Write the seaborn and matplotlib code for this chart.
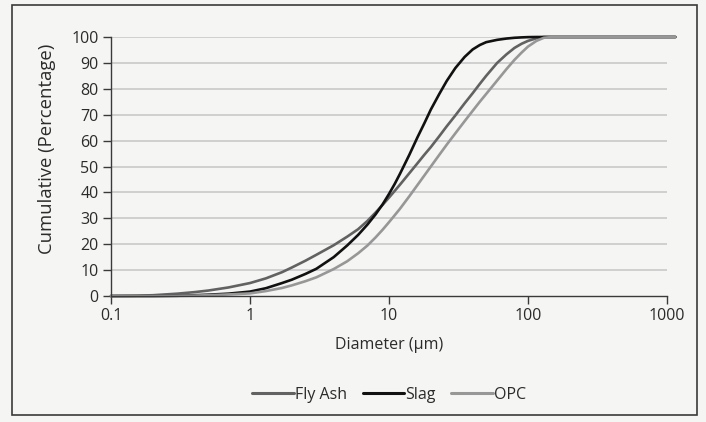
import numpy as np
import pandas as pd
import matplotlib
matplotlib.use("Agg")
import matplotlib.pyplot as plt
import seaborn as sns
from matplotlib.patches import Rectangle
from matplotlib.lines import Line2D

# ---- data ----
diameter = [0.1, 0.15, 0.2, 0.3, 0.4, 0.5, 0.7, 1, 1.3, 1.7, 2, 2.5, 3, 4, 5, 6, 7, 8, 9,
            10, 11, 12, 14, 16, 18, 20, 23, 26, 30, 35, 40, 45, 50, 60, 70, 80, 90, 100,
            115, 130, 150, 200, 300, 500, 1000, 1150]
fly_ash = [0, 0.1, 0.3, 0.9, 1.5, 2.1, 3.3, 5.0, 6.8, 9.2, 11.0, 13.6, 15.9, 19.6, 22.9,
           25.8, 29.0, 32.2, 35.2, 38.0, 40.6, 43.0, 47.4, 51.2, 54.6, 57.5, 61.7, 65.5,
           69.7, 74.4, 78.3, 81.9, 85.0, 90.0, 93.3, 95.8, 97.4, 98.5, 99.5, 100, 100,
           100, 100, 100, 100, 100]
slag = [0, 0, 0, 0.1, 0.3, 0.5, 0.9, 1.7, 3.0, 5.0, 6.3, 8.5, 10.5, 15.0, 19.5, 23.6,
        27.6, 31.5, 35.4, 39.4, 43.3, 47.2, 54.5, 61.2, 66.8, 72.0, 78.0, 83.0, 88.0,
        92.3, 95.2, 96.9, 98.0, 98.9, 99.4, 99.7, 99.85, 99.95, 100, 100, 100, 100, 100,
        100, 100, 100]
opc = [0, 0, 0, 0.05, 0.15, 0.3, 0.6, 1.0, 1.9, 3.1, 4.1, 5.7, 7.2, 10.4, 13.4, 16.5,
       19.5, 22.6, 25.6, 28.5, 31.2, 33.7, 38.5, 42.8, 46.6, 50.0, 54.5, 58.4, 62.8,
       67.5, 71.5, 75.0, 78.0, 83.2, 87.6, 91.2, 94.0, 96.3, 98.5, 99.7, 100, 100, 100,
       100, 100, 100]
series_names = ["Fly Ash", "Slag", "OPC"]
x_ticks = [0.1, 1, 10, 100, 1000]
x_tick_labels = ["0.1", "1", "10", "100", "1000"]
y_ticks = list(range(0, 101, 10))

df = pd.concat([
    pd.DataFrame({"Diameter": diameter, "Cumulative": vals, "Material": name})
    for name, vals in zip(series_names, [fly_ash, slag, opc])
])

sns.set_theme(style="white")
plt.rcParams["font.family"] = ["Open Sans", "DejaVu Sans"]
text_col = "#2b2b2b"
fs = 11.5

fig = plt.figure(figsize=(7.06, 4.22), dpi=100)
bg = "#f5f5f3"
fig.patch.set_facecolor(bg)
fig.patches.append(Rectangle((12 / 706, 1 - 415 / 422), 685 / 706, 410 / 422,
                             transform=fig.transFigure, fill=False,
                             edgecolor="#3a3a3a", linewidth=1.2))

ax = fig.add_axes([111 / 706, 1 - 296 / 422, 556 / 706, 259 / 422])
ax.set_facecolor(bg)

palette = {"Fly Ash": "#626262", "Slag": "#111111", "OPC": "#979797"}
sns.lineplot(data=df, x="Diameter", y="Cumulative", hue="Material",
             hue_order=series_names, palette=palette, linewidth=1.9, ax=ax,
             legend=False, sort=True, clip_on=False)

ax.set_xscale("log")
ax.set_xlim(0.1, 1000)
ax.set_ylim(0, 100)
ax.set_xticks(x_ticks)
ax.set_xticklabels(x_tick_labels)
ax.xaxis.set_minor_locator(matplotlib.ticker.NullLocator())
ax.set_yticks(y_ticks)

for y in y_ticks[1:]:
    ax.axhline(y, color="#c6c6c6", linewidth=1.1, zorder=0)

for s in ["top", "right"]:
    ax.spines[s].set_visible(False)
for s in ["left", "bottom"]:
    ax.spines[s].set_color("#3a3a3a")
    ax.spines[s].set_linewidth(1.0)

ax.tick_params(axis="both", which="major", direction="out", length=5.5, width=1.0,
               color="#3a3a3a", labelsize=fs, labelcolor=text_col, pad=3.5,
               left=True, bottom=True)
ax.set_xlabel("Diameter (μm)", fontsize=fs, color=text_col)
ax.xaxis.set_label_coords(0.5, (296 - 337) / 259)
ax.xaxis.label.set_va("top")
ax.set_ylabel("Cumulative (Percentage)", fontsize=13.3, color=text_col)
ax.yaxis.set_label_coords((56 - 111) / 556, (296 - 149) / 259)

handles = [Line2D([], [], color=palette[n], linewidth=2.2) for n in series_names]
fig.legend(handles, series_names, loc="center", bbox_to_anchor=(389 / 706, 1 - 395 / 422),
           ncol=3, frameon=False, fontsize=fs, handlelength=2.6, handletextpad=0.05,
           columnspacing=1.0, labelcolor=text_col)

fig.savefig("out.png", dpi=100, facecolor=fig.get_facecolor())
